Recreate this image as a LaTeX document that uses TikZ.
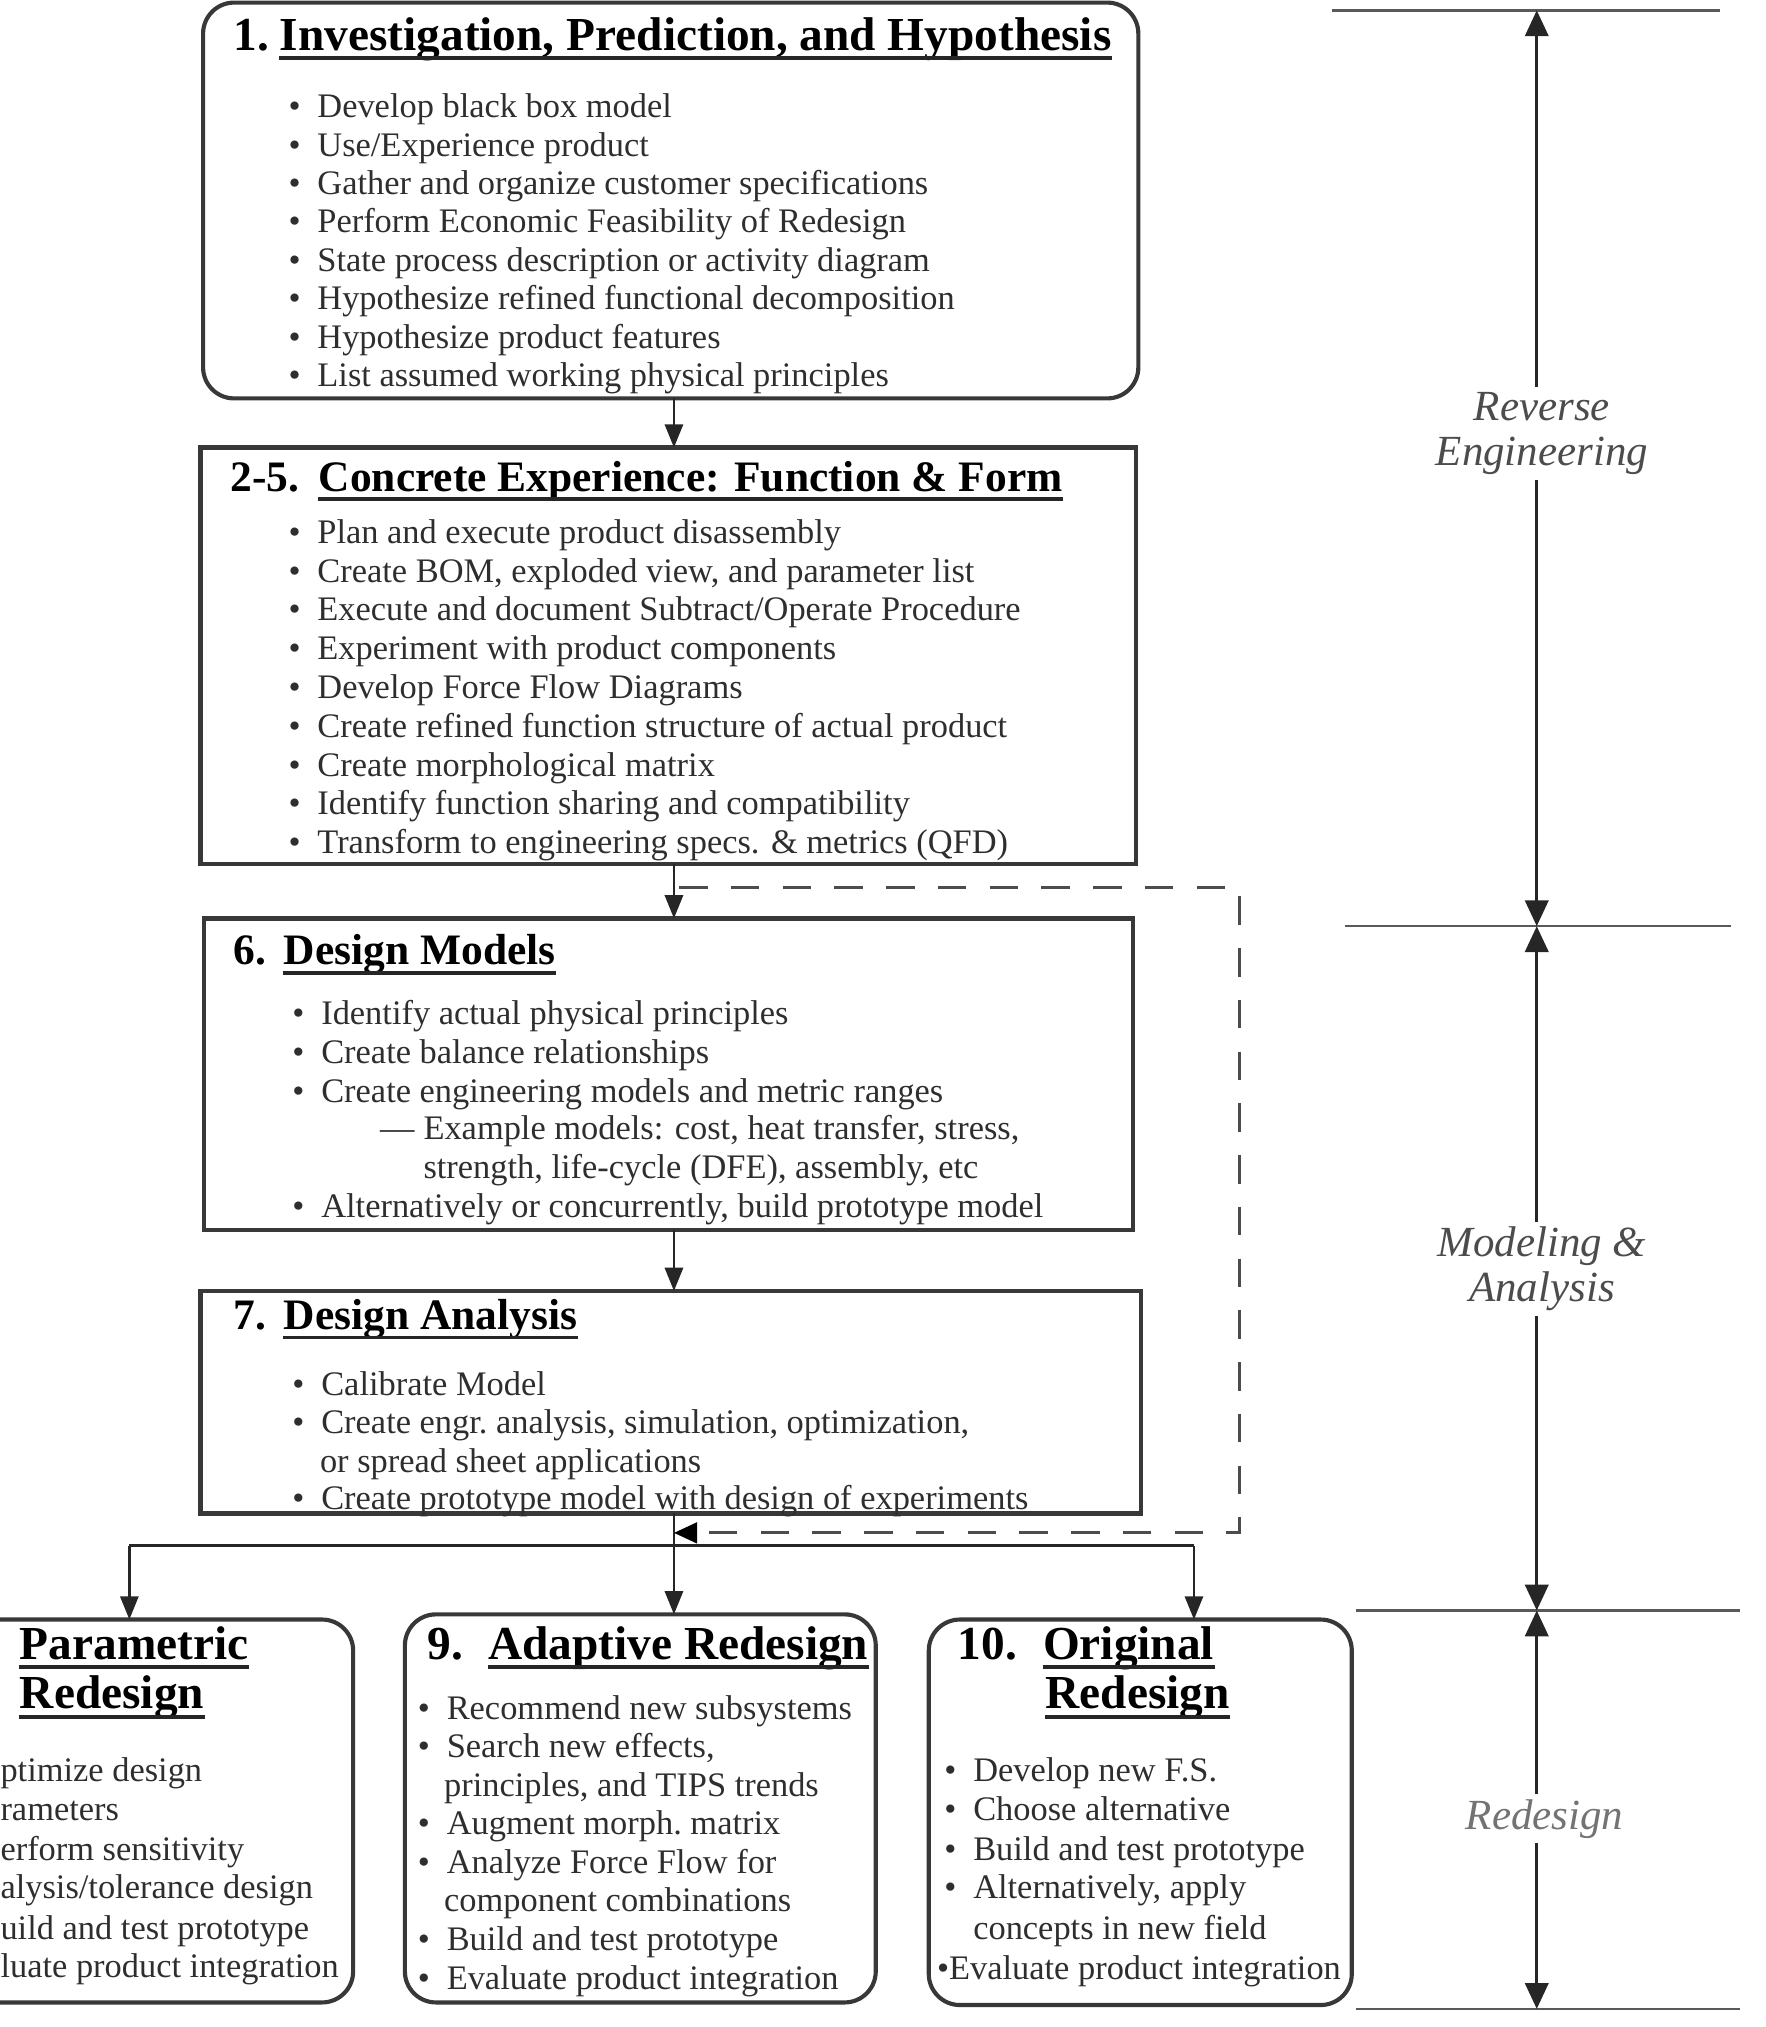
\documentclass[tikz,border=0pt]{standalone}
\usepackage{fontspec}
\setmainfont{Liberation Serif}
\usetikzlibrary{arrows.meta}
\newcommand\mybul{\llap{\textbullet\hspace{6.5pt}}}
\newcommand\mydash{\llap{---\hspace{3.5pt}}}
\begin{document}
\begin{tikzpicture}[x=0.5pt,y=-0.5pt,
  boxsq/.style={draw=black!78, line width=1.6pt, inner sep=0pt, outer sep=0pt},
  boxrd/.style={boxsq, rounded corners=12pt},
  body/.style={anchor=base west, inner sep=0pt, yshift=-1pt, font=\fontsize{13.3}{15}\selectfont, text=black!82},
  ttl/.style={anchor=base west, inner sep=0pt, yshift=-0.5pt, font=\fontsize{16.8}{19}\selectfont\bfseries},
  ttlb/.style={anchor=base west, inner sep=0pt, yshift=-0.5pt, font=\fontsize{18.3}{21}\selectfont\bfseries},
  uline/.style={line width=1.5pt, draw=black!85},
  conn/.style={line width=1.1pt, draw=black!85},
  arr/.style={conn, -{Triangle[width=7pt,length=9pt]}},
  dsh/.style={line width=1.2pt, draw=black!70, dash pattern=on 11pt off 9pt, -{Triangle[width=8pt,length=9pt,fill=black,color=black]}},
  hl/.style={line width=1pt, draw=black!65},
  darr/.style={line width=1.2pt, draw=black!85, {Triangle[width=9pt,length=10pt]}-{Triangle[width=9pt,length=10pt]}},
  lab/.style={fill=white, inner sep=2pt, align=center, font=\fontsize{16.6}{17.5}\selectfont\itshape, text=black!70}
]
\useasboundingbox (0,0) rectangle (1365,1567);
\clip (0,0) rectangle (1365,1567);

% ---------- boxes ----------
\node[boxrd, minimum width=361.5pt, minimum height=153pt] (box1) at (518.5,155) {};
\node[boxsq, minimum width=361.5pt, minimum height=161pt] (box2) at (516.5,507) {};
\node[boxsq, minimum width=359pt, minimum height=120.5pt] (box6) at (517,830.5) {};
\node[boxsq, minimum width=363.5pt, minimum height=86pt] (box7) at (518.5,1084) {};
\node[boxrd, minimum width=181.5pt, minimum height=148pt] (box8) at (91.5,1400) {};
\node[boxrd, minimum width=182pt, minimum height=150pt] (box9) at (495,1398) {};
\node[boxrd, minimum width=163.5pt, minimum height=149pt] (box10) at (881.5,1401) {};

% ---------- box 1 ----------
\node[ttlb] (t1n) at (180,38) {1.};
\node[ttlb] (t1) at (216,38) {Investigation, Prediction, and Hypothesis};
\draw[uline] ([yshift=-3pt]t1.base west) -- ([yshift=-3pt]t1.base east);
\node[body] (a1) at (245,89) {\mybul Develop black box model};
\node[body] (a2) at (245,118.7) {\mybul Use/Experience product};
\node[body] (a3) at (245,148.4) {\mybul Gather and organize customer specifications};
\node[body] (a4) at (245,178.1) {\mybul Perform Economic Feasibility of Redesign};
\node[body] (a5) at (245,207.8) {\mybul State process description or activity diagram};
\node[body] (a6) at (245,237.5) {\mybul Hypothesize refined functional decomposition};
\node[body] (a7) at (245,267.2) {\mybul Hypothesize product features};
\node[body] (a8) at (245,296.9) {\mybul List assumed working physical principles};

% ---------- box 2 ----------
\node[ttl] (t2n) at (178,379) {2-5.};
\node[ttl] (t2) at (246,379) {Concrete Experience: Function \& Form};
\draw[uline] ([yshift=-3pt]t2.base west) -- ([yshift=-3pt]t2.base east);
\node[body] (b1) at (245,418) {\mybul Plan and execute product disassembly};
\node[body] (b2) at (245,448) {\mybul Create BOM, exploded view, and parameter list};
\node[body] (b3) at (245,478) {\mybul Execute and document Subtract/Operate Procedure};
\node[body] (b4) at (245,508) {\mybul Experiment with product components};
\node[body] (b5) at (245,538) {\mybul Develop Force Flow Diagrams};
\node[body] (b6) at (245,568) {\mybul Create refined function structure of actual product};
\node[body] (b7) at (245,598) {\mybul Create morphological matrix};
\node[body] (b8) at (245,628) {\mybul Identify function sharing and compatibility};
\node[body] (b9) at (245,658) {\mybul Transform to engineering specs. \& metrics (QFD)};

% ---------- box 6 ----------
\node[ttl] (t6n) at (180,745) {6.};
\node[ttl] (t6) at (219,745) {Design Models};
\draw[uline] ([yshift=-3pt]t6.base west) -- ([yshift=-3pt]t6.base east);
\node[body] (c1) at (248,790) {\mybul Identify actual physical principles};
\node[body] (c2) at (248,820) {\mybul Create balance relationships};
\node[body] (c3) at (248,850) {\mybul Create engineering models and metric ranges};
\node[body] (c4) at (327,879) {\mydash Example models: cost, heat transfer, stress,};
\node[body] (c5) at (327,909) {strength, life-cycle (DFE), assembly, etc};
\node[body] (c6) at (248,939) {\mybul Alternatively or concurrently, build prototype model};

% ---------- box 7 ----------
\node[ttl] (t7n) at (180,1027) {7.};
\node[ttl] (t7) at (219,1027) {Design Analysis};
\draw[uline] ([yshift=-3pt]t7.base west) -- ([yshift=-3pt]t7.base east);
\node[body] (d1) at (248,1077) {\mybul Calibrate Model};
\node[body] (d2) at (248,1106) {\mybul Create engr.\ analysis, simulation, optimization,};
\node[body] (d3) at (247,1136) {or spread sheet applications};
\node[body] (d4) at (248,1165) {\mybul Create prototype model with design of experiments};

% ---------- box 8 ----------
\node[ttlb] (t8a) at (15,1282) {Parametric};
\draw[uline] ([yshift=-3pt]t8a.base west) -- ([yshift=-3pt]t8a.base east);
\node[ttlb] (t8b) at (15,1320) {Redesign};
\draw[uline] ([yshift=-3pt]t8b.base west) -- ([yshift=-3pt]t8b.base east);
\node[body] (e1) at (0,1375) {ptimize design};
\node[body] (e2) at (0,1405) {rameters};
\node[body] (e3) at (0,1436) {erform sensitivity};
\node[body] (e4) at (0,1466) {alysis/tolerance design};
\node[body] (e5) at (0,1497) {uild and test prototype};
\node[body] (e6) at (0,1527) {luate product integration};

% ---------- box 9 ----------
\node[ttlb] (t9n) at (330,1282) {9.};
\node[ttlb] (t9) at (377,1282) {Adaptive Redesign};
\draw[uline] ([yshift=-3pt]t9.base west) -- ([yshift=-3pt]t9.base east);
\node[body] (f1) at (345,1327) {\mybul Recommend new subsystems};
\node[body] (f2) at (345,1357) {\mybul Search new effects,};
\node[body] (f3) at (343,1387) {principles, and TIPS trends};
\node[body] (f4) at (345,1416) {\mybul Augment morph.\ matrix};
\node[body] (f5) at (345,1446) {\mybul Analyze Force Flow for};
\node[body] (f6) at (343,1476) {component combinations};
\node[body] (f7) at (345,1506) {\mybul Build and test prototype};
\node[body] (f8) at (345,1536) {\mybul Evaluate product integration};

% ---------- box 10 ----------
\node[ttlb] (t10n) at (740,1282) {10.};
\node[ttlb] (t10a) at (806,1282) {Original};
\draw[uline] ([yshift=-3pt]t10a.base west) -- ([yshift=-3pt]t10a.base east);
\node[ttlb] (t10b) at (808,1320) {Redesign};
\draw[uline] ([yshift=-3pt]t10b.base west) -- ([yshift=-3pt]t10b.base east);
\node[body] (g1) at (752,1375) {\mybul Develop new F.S.};
\node[body] (g2) at (752,1405) {\mybul Choose alternative};
\node[body] (g3) at (752,1436) {\mybul Build and test prototype};
\node[body] (g4) at (752,1466) {\mybul Alternatively, apply};
\node[body] (g5) at (752,1497) {concepts in new field};
\node[body] (g6) at (724,1528) {\textbullet Evaluate product integration};

% ---------- connectors ----------
\coordinate (ax) at (521,0);
\draw[arr] (ax |- box1.south) -- (ax |- box2.north);
\draw[arr] (ax |- box2.south) -- (ax |- box6.north);
\draw[arr] (ax |- box6.south) -- (ax |- box7.north);
\draw[arr] (ax |- box7.south) -- (ax |- box9.north);
\coordinate (jl) at (100,1195);
\coordinate (jr) at (923,1195);
\draw[conn] (jl) -- (jr);
\draw[arr] (jl) -- (jl |- box8.north);
\draw[arr] (jr) -- (jr |- box10.north);
\coordinate (ds) at (525,686);
\coordinate (dc1) at (958,686);
\coordinate (dc2) at (958,1185);
\coordinate (de) at (521,1185);
\draw[dsh] (ds) -- (dc1) -- (dc2) -- (de);

% ---------- right-hand phases ----------
\coordinate (ra) at (1188,8);
\coordinate (rb) at (1188,716);
\coordinate (rc) at (1188,1245);
\coordinate (rd) at (1188,1553);
\coordinate (h1a) at (1030,8);   \coordinate (h1b) at (1330,8);
\coordinate (h2a) at (1040,716); \coordinate (h2b) at (1338,716);
\coordinate (h3a) at (1048,1245);\coordinate (h3b) at (1345,1245);
\coordinate (h4a) at (1048,1553);\coordinate (h4b) at (1345,1553);
\draw[hl] (h1a) -- (h1b);
\draw[hl] (h2a) -- (h2b);
\draw[hl] (h3a) -- (h3b);
\draw[hl] (h4a) -- (h4b);
\draw[darr] (ra) -- (rb);
\draw[darr] (rb) -- (rc);
\draw[darr] (rc) -- (rd);
\node[lab] (l1) at (1192,335) {Reverse\\Engineering};
\node[lab] (l2) at (1192,981) {Modeling \&\\Analysis};
\node[lab, text=black!55] (l3) at (1194,1406) {Redesign};
\end{tikzpicture}
\end{document}
